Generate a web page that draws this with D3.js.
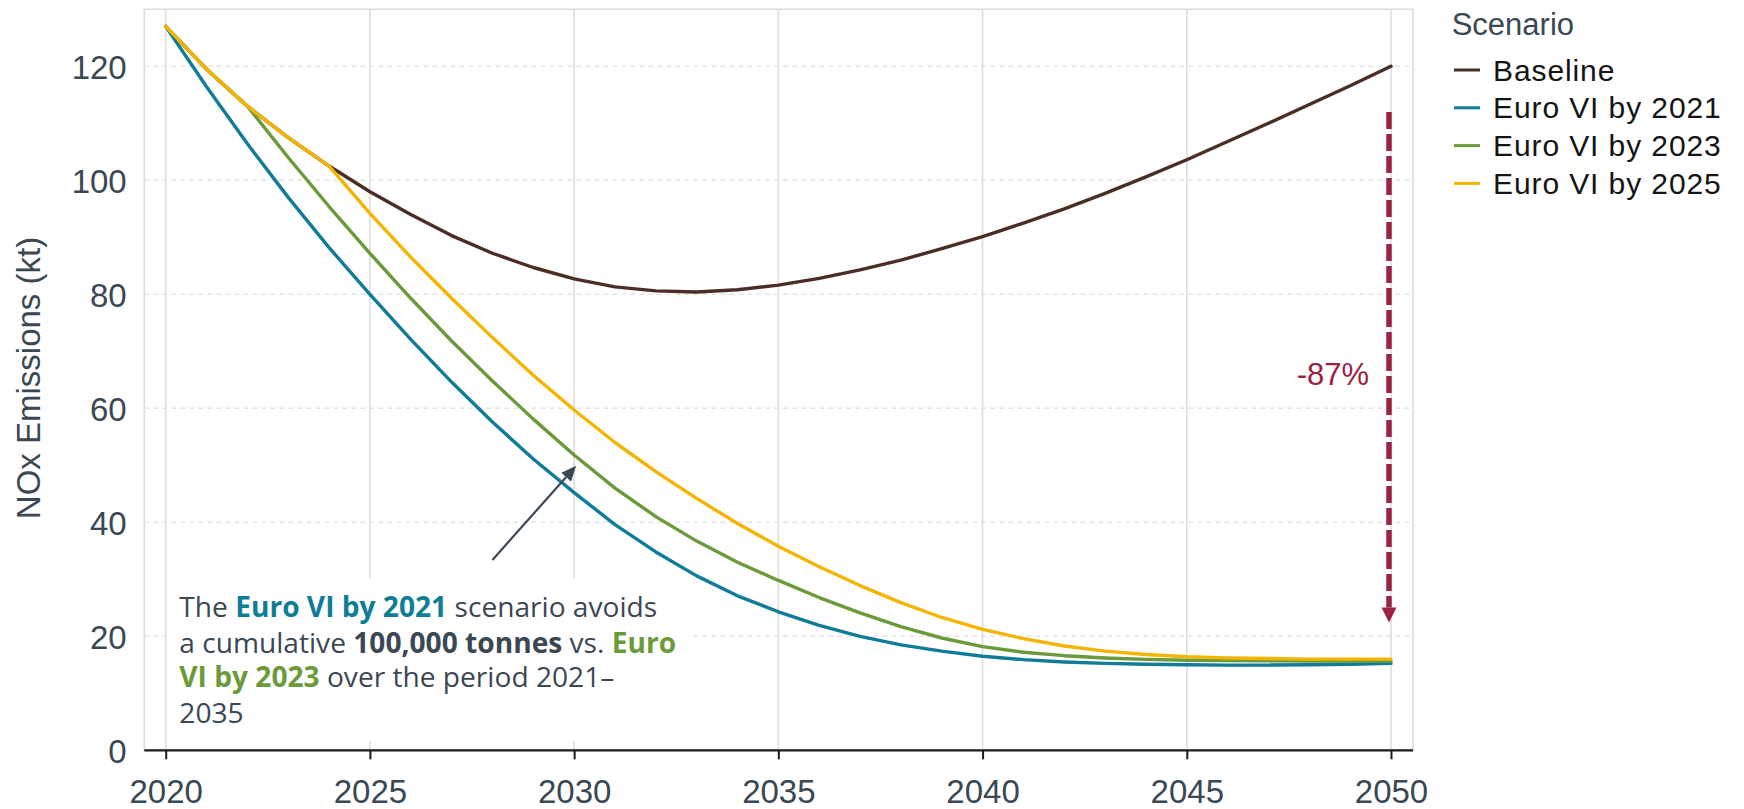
<!DOCTYPE html>
<html>
<head>
<meta charset="utf-8">
<script src="https://cdn.jsdelivr.net/npm/d3@7/dist/d3.min.js"></script>
<style>
  html, body { margin: 0; padding: 0; background: #ffffff; }
  svg { display: block; }
</style>
</head>
<body>
<svg id="chart" width="1744" height="809"></svg>
<script>
// ---- data -------------------------------------------------------------
const years = [2020, 2021, 2022, 2023, 2024, 2025, 2026, 2027, 2028, 2029,
               2030, 2031, 2032, 2033, 2034, 2035, 2036, 2037, 2038, 2039,
               2040, 2041, 2042, 2043, 2044, 2045, 2046, 2047, 2048, 2049, 2050];

const baseline = [127.0, 119.5, 113.0, 107.5, 102.5, 98.0, 94.0, 90.3, 87.2, 84.7,
                  82.7, 81.3, 80.6, 80.4, 80.8, 81.6, 82.8, 84.3, 86.0, 88.0,
                  90.1, 92.5, 95.0, 97.7, 100.6, 103.6, 106.8, 110.0, 113.3, 116.6, 120.0];

const euroVI2021 = [127.0, 116.4, 106.4, 97.0, 88.2, 80.0, 72.1, 64.6, 57.6, 51.1,
                    45.2, 39.6, 34.8, 30.6, 27.1, 24.3, 21.9, 20.0, 18.5, 17.4,
                    16.5, 15.9, 15.5, 15.25, 15.1, 15.0, 14.95, 14.95, 15.0, 15.1, 15.25];

const euroVI2023 = [127.0, 119.5, 113.0, 104.0, 95.4, 87.2, 79.3, 71.8, 64.8, 58.1,
                    51.8, 46.0, 41.0, 36.7, 33.0, 29.8, 26.8, 24.1, 21.7, 19.7,
                    18.2, 17.2, 16.6, 16.2, 15.95, 15.8, 15.75, 15.7, 15.65, 15.65, 15.65];

const euroVI2025 = [127.0, 119.5, 113.0, 107.5, 102.5, 94.2, 86.5, 79.3, 72.4, 65.8,
                    59.7, 54.0, 48.9, 44.2, 39.8, 35.8, 32.2, 28.9, 25.9, 23.3,
                    21.2, 19.6, 18.3, 17.4, 16.8, 16.4, 16.2, 16.1, 16.0, 16.0, 16.0];

const seriesNames  = ["Baseline", "Euro VI by 2021", "Euro VI by 2023", "Euro VI by 2025"];
const seriesValues = [baseline, euroVI2021, euroVI2023, euroVI2025];
const seriesColors = ["#4a2e26", "#117c98", "#6b9a3b", "#f4b400"];

const xTicks = [2020, 2025, 2030, 2035, 2040, 2045, 2050];
const yTicks = [0, 20, 40, 60, 80, 100, 120];

// reduction arrow at 2050: from / to (kt) and its label
const reductionArrow = { year: 2050, from: 112, to: 22.4, label: "-87%", labelValue: 64.1 };
// callout arrow (year, kt) from tail to head
const calloutArrow = { tail: [2028.0, 33.4], head: [2030.05, 49.9] };

// ---- layout -----------------------------------------------------------
const svg = d3.select("#chart");
const panel = { left: 144.3, right: 1413, top: 9.3, bottom: 750.3 };

const x = d3.scaleLinear().domain([2020, 2050]).range([165.7, 1391]);
const y = d3.scaleLinear().domain([0, 130]).range([panel.bottom, panel.top]);

const slate = "#3b4752";

// panel border (light grey on top, left and right)
svg.append("path")
  .attr("d", `M${panel.left},${panel.bottom} V${panel.top} H${panel.right} V${panel.bottom}`)
  .attr("fill", "none").attr("stroke", "#dcdcdc").attr("stroke-width", 1.6);

// vertical gridlines
svg.append("g").selectAll("line").data(xTicks).join("line")
  .attr("x1", d => x(d)).attr("x2", d => x(d))
  .attr("y1", panel.top).attr("y2", panel.bottom)
  .attr("stroke", "#dedede").attr("stroke-width", 1.6);

// horizontal gridlines (dashed)
svg.append("g").selectAll("line").data(yTicks.filter(d => d > 0)).join("line")
  .attr("x1", panel.left).attr("x2", panel.right)
  .attr("y1", d => y(d)).attr("y2", d => y(d))
  .attr("stroke", "#e4e4e4").attr("stroke-width", 1.6)
  .attr("stroke-dasharray", "5,4");

// white backing for the callout text
svg.append("rect")
  .attr("x", 168).attr("y", 578).attr("width", 520).attr("height", 163)
  .attr("fill", "#ffffff");

// x axis
const xAxis = svg.append("g")
  .attr("transform", `translate(0,${panel.bottom})`)
  .call(d3.axisBottom(x).tickValues(xTicks).tickFormat(d3.format("d")).tickSize(9).tickPadding(20));
xAxis.select(".domain").remove();
xAxis.selectAll(".tick line").attr("stroke", "#1a1a1a").attr("stroke-width", 2);
xAxis.selectAll(".tick text")
  .attr("fill", slate).attr("font-family", "Liberation Sans, Arial, sans-serif")
  .attr("font-size", 33).attr("dy", "0.71em");
svg.append("line")
  .attr("x1", panel.left).attr("x2", panel.right)
  .attr("y1", panel.bottom).attr("y2", panel.bottom)
  .attr("stroke", "#1a1a1a").attr("stroke-width", 2.2);

// y axis labels
const yAxis = svg.append("g")
  .attr("transform", `translate(${panel.left},0)`)
  .call(d3.axisLeft(y).tickValues(yTicks).tickSize(0).tickPadding(17.6));
yAxis.select(".domain").remove();
yAxis.selectAll(".tick text")
  .attr("fill", slate).attr("font-family", "Liberation Sans, Arial, sans-serif")
  .attr("font-size", 33).attr("dy", "0.36em");

// y axis title
svg.append("text")
  .attr("transform", "translate(39.5,378) rotate(-90)")
  .attr("text-anchor", "middle")
  .attr("fill", slate).attr("font-family", "Liberation Sans, Arial, sans-serif")
  .attr("font-size", 33)
  .text("NOx Emissions (kt)");

// scenario lines
const line = d3.line()
  .x((d, i) => x(years[i]))
  .y(d => y(d));

svg.append("g").selectAll("path").data(seriesValues).join("path")
  .attr("d", d => line(d))
  .attr("fill", "none")
  .attr("stroke", (d, i) => seriesColors[i])
  .attr("stroke-width", 3.4)
  .attr("stroke-linejoin", "round")
  .attr("stroke-linecap", "round");

// reduction arrow
const ra = reductionArrow;
const raX = x(ra.year) - 2;
const tipY = y(ra.to);
const headLen = 15;
svg.append("line")
  .attr("x1", raX).attr("x2", raX)
  .attr("y1", y(ra.from)).attr("y2", tipY - headLen)
  .attr("stroke", "#9b2242").attr("stroke-width", 5.5)
  .attr("stroke-dasharray", "17,5");
svg.append("path")
  .attr("d", `M${raX - 7.5},${tipY - headLen} L${raX + 7.5},${tipY - headLen} L${raX},${tipY} Z`)
  .attr("fill", "#9b2242");
svg.append("text")
  .attr("x", raX - 20).attr("y", y(ra.labelValue))
  .attr("text-anchor", "end")
  .attr("fill", "#9b2242").attr("font-family", "Liberation Sans, Arial, sans-serif")
  .attr("font-size", 31)
  .text(ra.label);

// callout arrow
const [tx, ty] = [x(calloutArrow.tail[0]), y(calloutArrow.tail[1])];
const [hx, hy] = [x(calloutArrow.head[0]), y(calloutArrow.head[1])];
const ang = Math.atan2(hy - ty, hx - tx);
const aLen = 15, aHalf = 6.5;
const bx = hx - aLen * Math.cos(ang), by = hy - aLen * Math.sin(ang);
svg.append("line")
  .attr("x1", tx).attr("y1", ty).attr("x2", bx).attr("y2", by)
  .attr("stroke", slate).attr("stroke-width", 2.2);
svg.append("path")
  .attr("d", `M${hx},${hy} L${bx + aHalf * Math.sin(ang)},${by - aHalf * Math.cos(ang)} L${bx - aHalf * Math.sin(ang)},${by + aHalf * Math.cos(ang)} Z`)
  .attr("fill", slate);

// callout text
const calloutLines = [
  [["The ", "n"], ["Euro VI by 2021", "teal"], [" scenario avoids", "n"]],
  [["a cumulative ", "n"], ["100,000 tonnes", "b"], [" vs. ", "n"], ["Euro", "green"]],
  [["VI by 2023", "green"], [" over the period 2021–", "n"]],
  [["2035", "n"]]
];
const styleFor = {
  n:     { fill: slate,     weight: 400 },
  b:     { fill: slate,     weight: 700 },
  teal:  { fill: "#0f7d96", weight: 700 },
  green: { fill: "#6b9a3b", weight: 700 }
};
const callout = svg.append("g")
  .attr("font-family", "Open Sans, Noto Sans, sans-serif");
const baselines = [617.3, 652.7, 687.3, 722.7];
let calloutSize = 26;
const texts = calloutLines.map((parts, li) => {
  const t = callout.append("text").attr("x", 179.3).attr("y", baselines[li]);
  parts.forEach(([s, k]) => {
    t.append("tspan").text(s)
      .attr("fill", styleFor[k].fill)
      .attr("font-weight", styleFor[k].weight);
  });
  return t;
});
callout.attr("font-size", calloutSize);
// size the callout so the first line spans its box
const w0 = texts[0].node().getComputedTextLength();
if (w0 > 0) {
  calloutSize = calloutSize * 478 / w0;
  callout.attr("font-size", calloutSize);
}

// legend
const legend = svg.append("g").attr("font-family", "Liberation Sans, Arial, sans-serif");
legend.append("text")
  .attr("x", 1451.7).attr("y", 35)
  .attr("fill", slate).attr("font-size", 31)
  .text("Scenario");
const legendRows = legend.selectAll("g.row").data(seriesNames).join("g")
  .attr("class", "row")
  .attr("transform", (d, i) => `translate(0,${70 + i * 37.8})`);
legendRows.append("line")
  .attr("x1", 1454).attr("x2", 1480)
  .attr("stroke", (d, i) => seriesColors[i]).attr("stroke-width", 3);
legendRows.append("text")
  .attr("x", 1493).attr("y", 10.5)
  .attr("fill", "#141414").attr("font-size", 30)
  .attr("letter-spacing", 0.9)
  .text(d => d);
</script>
</body>
</html>
